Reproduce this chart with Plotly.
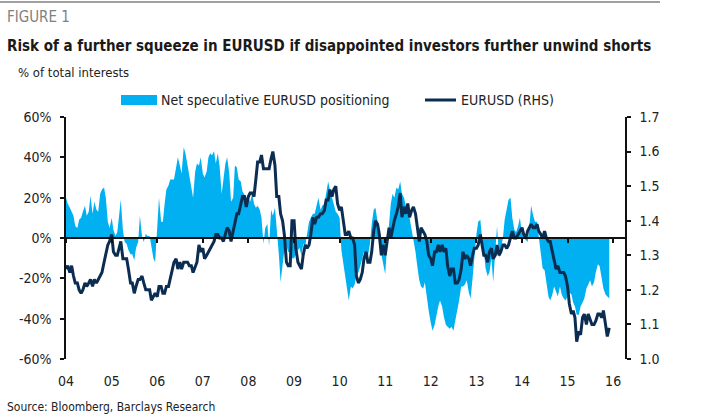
import pandas as pd
import plotly.graph_objects as go

# ---------------- data (semi-monthly readings, Jan 2004 - early Dec 2015) ----------------
positioning = [
    # 2004
    20, 17, 15, 13, 11, 6, 5, 9, 10, 13, 16, 11, 13, 21, 12, 18, 14, 13, 22, 24, 25, 20, 8, 5,
    # 2005
    10, 4, 1, 3, 12, 19, 4, -2, -3, -6, -8, -8, -11, -5, -2, 11, 1, -2, 2, 1, 1, -5, -10, -12,
    # 2006
    5, 20, 8, 8, 17, 24, 26, 29, 29, 29, 35, 40, 36, 32, 45, 42, 36, 31, 27, 20, 33, 37, 36, 40,
    # 2007
    32, 30, 33, 40, 42, 41, 43, 37, 42, 36, 22, 28, 37, 40, 32, 18, 20, 36, 35, 29, 28, 23, 21, 20,
    # 2008
    20, 18, 22, 17, 15, 16, 14, 10, -3, 5, 7, -4, 14, 11, 15, 5, -8, -22, -12, -6, -4, -7, -7, -10,
    # 2009
    -10, -8, -6, -5, -9, -3, -4, 2, 8, 10, 12, 12, 16, 20, 14, 16, 17, 22, 28, 24, 20, 16, 13, 12,
    # 2010
    10, -6, -14, -21, -25, -31, -24, -25, -23, -19, -17, -14, -10, -7, -11, -9, -3, 7, 14, 15, 8, -4, -8, -12,
    # 2011
    -18, -5, 6, 17, 22, 20, 25, 24, 28, 22, 20, 16, 15, 10, 6, 0, -7, -14, -21, -24, -25, -22, -30, -36,
    # 2012
    -42, -46, -43, -38, -34, -31, -34, -39, -43, -44, -45, -44, -46, -41, -36, -31, -24, -24, -23, -21, -27, -30, -20, -8,
    # 2013
    2, 8, 9, 0, -6, -15, -19, -17, -10, -22, -3, 6, -10, -5, 0, 9, 14, 19, 20, 10, 4, 3, 6, 10,
    # 2014
    2, 0, -1, -2, 6, 16, 11, 8, 8, 1, -5, -15, -16, -21, -29, -31, -28, -24, -27, -29, -24, -28, -30, -31,
    # 2015
    -29, -27, -28, -32, -34, -38, -38, -34, -32, -30, -25, -23, -21, -24, -22, -17, -13, -14, -21, -25, -28, -29, -30,
]

eurusd = [
    # 2004
    1.26, 1.27, 1.25, 1.27, 1.24, 1.22, 1.22, 1.20, 1.19, 1.20, 1.22, 1.21, 1.22, 1.23, 1.21, 1.23, 1.22, 1.23, 1.24, 1.25, 1.28, 1.30, 1.33, 1.34,
    # 2005
    1.36, 1.31, 1.30, 1.30, 1.32, 1.34, 1.29, 1.29, 1.29, 1.26, 1.22, 1.22, 1.19, 1.21, 1.23, 1.23, 1.24, 1.22, 1.20, 1.20, 1.20, 1.17, 1.18, 1.19,
    # 2006
    1.18, 1.21, 1.21, 1.19, 1.19, 1.21, 1.21, 1.23, 1.26, 1.28, 1.29, 1.26, 1.28, 1.26, 1.28, 1.28, 1.28, 1.27, 1.27, 1.25, 1.27, 1.28, 1.33, 1.31,
    # 2007
    1.32, 1.29, 1.30, 1.31, 1.32, 1.33, 1.34, 1.36, 1.36, 1.35, 1.35, 1.34, 1.36, 1.38, 1.37, 1.34, 1.37, 1.39, 1.42, 1.42, 1.45, 1.47, 1.47, 1.44,
    # 2008
    1.47, 1.48, 1.48, 1.47, 1.52, 1.57, 1.57, 1.59, 1.55, 1.55, 1.55, 1.55, 1.58, 1.60, 1.56, 1.47, 1.47, 1.42, 1.40, 1.36, 1.28, 1.27, 1.27, 1.40,
    # 2009
    1.40, 1.32, 1.28, 1.27, 1.26, 1.30, 1.33, 1.32, 1.33, 1.36, 1.41, 1.39, 1.41, 1.41, 1.42, 1.42, 1.43, 1.46, 1.46, 1.49, 1.47, 1.49, 1.50, 1.45,
    # 2010
    1.43, 1.44, 1.39, 1.36, 1.36, 1.37, 1.35, 1.35, 1.33, 1.24, 1.22, 1.23, 1.25, 1.29, 1.31, 1.28, 1.28, 1.31, 1.37, 1.40, 1.39, 1.36, 1.30, 1.33,
    # 2011
    1.30, 1.34, 1.38, 1.35, 1.38, 1.40, 1.42, 1.44, 1.48, 1.41, 1.44, 1.42, 1.45, 1.41, 1.43, 1.44, 1.42, 1.38, 1.34, 1.38, 1.37, 1.36, 1.34, 1.30,
    # 2012
    1.29, 1.27, 1.31, 1.31, 1.33, 1.31, 1.33, 1.31, 1.32, 1.27, 1.24, 1.26, 1.26, 1.22, 1.22, 1.23, 1.26, 1.31, 1.29, 1.30, 1.29, 1.27, 1.30, 1.32,
    # 2013
    1.32, 1.33, 1.36, 1.33, 1.30, 1.30, 1.28, 1.31, 1.32, 1.29, 1.30, 1.33, 1.30, 1.31, 1.33, 1.33, 1.32, 1.33, 1.35, 1.37, 1.35, 1.35, 1.36, 1.37,
    # 2014
    1.38, 1.36, 1.35, 1.37, 1.38, 1.39, 1.38, 1.38, 1.39, 1.37, 1.36, 1.35, 1.37, 1.35, 1.34, 1.34, 1.31, 1.29, 1.26, 1.27, 1.25, 1.25, 1.25, 1.24,
    # 2015
    1.21, 1.16, 1.13, 1.14, 1.12, 1.05, 1.08, 1.07, 1.12, 1.13, 1.10, 1.13, 1.11, 1.10, 1.10, 1.11, 1.13, 1.13, 1.12, 1.14, 1.10, 1.065, 1.09,
]

dates = pd.date_range("2004-01-01", periods=len(positioning), freq="SMS")

year_ticks = [f"{y}-01-01" for y in range(2004, 2017)]
year_labels = ["04", "05", "06", "07", "08", "09", "10", "11", "12", "13", "14", "15", "16"]
left_ticks = [60, 40, 20, 0, -20, -40, -60]
left_labels = ["60%", "40%", "20%", "0%", "-20%", "-40%", "-60%"]
right_ticks = [1.7, 1.6, 1.5, 1.4, 1.3, 1.2, 1.1, 1.0]
right_labels = ["1.7", "1.6", "1.5", "1.4", "1.3", "1.2", "1.1", "1.0"]

# ---------------- styling ----------------
W, H = 709, 416
L, R, T, B = 66, 84, 117, 57
PW, PH = W - L - R, H - T - B
FONT = "DejaVu Sans Condensed, Roboto, sans-serif"
BLUE = "#00B0F0"
NAVY = "#0C2D52"
TXT = "#222222"


def px_x(x):
    return (x - L) / PW


def px_y(y):
    return (H - B - y) / PH


fig = go.Figure()
fig.add_trace(go.Scatter(
    x=dates, y=positioning, mode="lines", fill="tozeroy",
    fillcolor=BLUE, line=dict(width=0, color=BLUE),
    name="Net speculative EURUSD positioning", showlegend=False,
    xaxis="x", yaxis="y",
))
fig.add_trace(go.Scatter(
    x=dates, y=eurusd, mode="lines",
    line=dict(width=3, color=NAVY),
    name="EURUSD (RHS)", showlegend=False,
    xaxis="x2", yaxis="y2",
))

x_range = ["2004-01-01", "2016-04-05"]
axis_font = dict(family=FONT, size=14, color=TXT)

fig.update_layout(
    width=W, height=H,
    margin=dict(l=L, r=R, t=T, b=B),
    paper_bgcolor="white", plot_bgcolor="white",
    font=dict(family=FONT, color=TXT),
    xaxis=dict(
        range=x_range, type="date", tickvals=year_ticks, ticktext=year_labels,
        showline=False, ticks="", showgrid=False, zeroline=False,
        tickfont=axis_font, ticklabelstandoff=12,
    ),
    xaxis2=dict(
        range=x_range, type="date", matches="x", overlaying="x",
        anchor="free", position=0.5, tickvals=year_ticks,
        showticklabels=False, showline=True, linecolor="#111111", linewidth=1.5,
        ticks="outside", ticklen=4, tickwidth=1.5, tickcolor="#111111",
        showgrid=False, zeroline=False,
    ),
    yaxis=dict(
        range=[-60, 60], tickvals=left_ticks, ticktext=left_labels,
        showline=True, linecolor="#111111", linewidth=1.5,
        ticks="outside", ticklen=4, tickwidth=1.5, tickcolor="#111111",
        showgrid=False, zeroline=False, tickfont=axis_font, ticklabelstandoff=6,
    ),
    yaxis2=dict(
        range=[1.0, 1.7], tickvals=right_ticks, ticktext=right_labels,
        overlaying="y", side="right", anchor="x2",
        showline=True, linecolor="#111111", linewidth=1.5,
        ticks="outside", ticklen=4, tickwidth=1.5, tickcolor="#111111",
        showgrid=False, zeroline=False, tickfont=axis_font, ticklabelstandoff=6,
    ),
)

annotations = [
    dict(text="FIGURE 1", x=px_x(5), y=px_y(17), font=dict(size=15, color="#808080")),
    dict(text="<b>Risk of a further squeeze in EURUSD if disappointed investors further unwind shorts</b>",
         x=px_x(5), y=px_y(46), font=dict(size=15, color="#1a1a1a")),
    dict(text="% of total interests", x=px_x(16), y=px_y(73), font=dict(size=13, color=TXT)),
    dict(text="Net speculative EURUSD positioning", x=px_x(159), y=px_y(100), font=dict(size=14, color=TXT)),
    dict(text="EURUSD (RHS)", x=px_x(459), y=px_y(100), font=dict(size=14, color=TXT)),
    dict(text="Source: Bloomberg, Barclays Research", x=px_x(5), y=px_y(407), font=dict(size=12, color=TXT)),
]
for a in annotations:
    a.update(xref="paper", yref="paper", xanchor="left", yanchor="middle",
             showarrow=False)
    a["font"]["family"] = FONT
fig.update_layout(annotations=annotations)

fig.update_layout(shapes=[
    dict(type="line", xref="paper", yref="paper", x0=px_x(0), x1=px_x(660),
         y0=px_y(2), y1=px_y(2), line=dict(color="#a0a0a0", width=2)),
    dict(type="rect", xref="paper", yref="paper", x0=px_x(121), x1=px_x(157),
         y0=px_y(105), y1=px_y(95), fillcolor=BLUE, line=dict(width=0)),
    dict(type="line", xref="paper", yref="paper", x0=px_x(425), x1=px_x(456),
         y0=px_y(100), y1=px_y(100), line=dict(color=NAVY, width=3)),
])

fig.write_html("out.html", config={"displayModeBar": False},
               post_script="document.body.style.margin='0';")
